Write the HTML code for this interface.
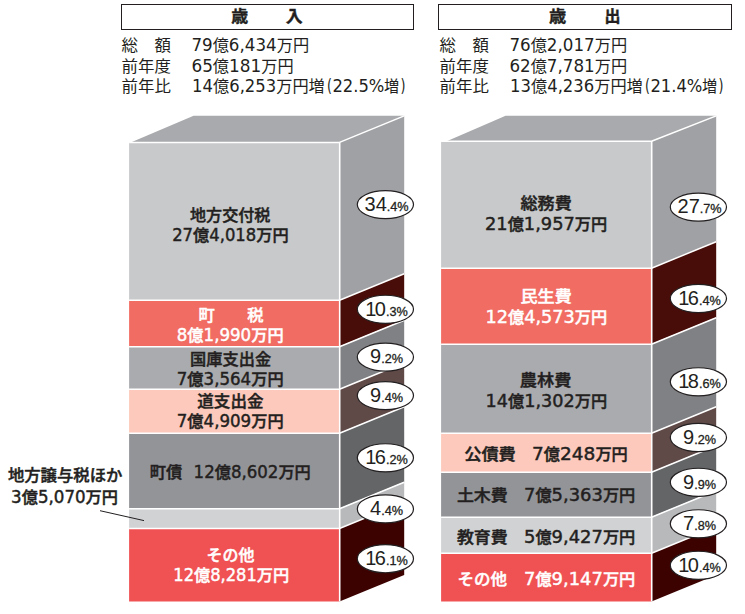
<!DOCTYPE html>
<html lang="ja">
<head>
<meta charset="utf-8">
<title>歳入・歳出</title>
<style>
html,body{margin:0;padding:0;background:#fff;}
body{width:745px;height:614px;overflow:hidden;}
svg{display:block;font-family:"Liberation Sans", "Noto Sans CJK JP", sans-serif;}
.n{font-family:"DejaVu Sans","Liberation Sans",sans-serif;}
</style>
</head>
<body>
<svg width="745" height="614" viewBox="0 0 745 614">
<rect x="121.5" y="4.5" width="292" height="25" fill="#fff" stroke="#231f20" stroke-width="1"/>
<rect x="438.5" y="4.5" width="293" height="25" fill="#fff" stroke="#231f20" stroke-width="1"/>
<polygon points="130.7,142.4 339.5,142.4 404.2,115.7 193.6,115.7" fill="#a9aaad"/>
<rect x="129.1" y="142.2" width="210.4" height="157.8" fill="#c8c9cb"/>
<polygon points="339.5,142.2 404.2,115.7 404.2,273.5 339.5,300" fill="#a0a1a4"/>
<rect x="129.1" y="300" width="210.4" height="46.5" fill="#f16c62"/>
<polygon points="339.5,300 404.2,273.5 404.2,320 339.5,346.5" fill="#480d08"/>
<rect x="129.1" y="346.5" width="210.4" height="42.5" fill="#aaabae"/>
<polygon points="339.5,346.5 404.2,320 404.2,362.5 339.5,389" fill="#808184"/>
<rect x="129.1" y="389" width="210.4" height="44" fill="#fcc9bc"/>
<polygon points="339.5,389 404.2,362.5 404.2,406.5 339.5,433" fill="#5f4a48"/>
<rect x="129.1" y="433" width="210.4" height="75.5" fill="#939498"/>
<polygon points="339.5,433 404.2,406.5 404.2,482 339.5,508.5" fill="#646567"/>
<rect x="129.1" y="508.5" width="210.4" height="19.8" fill="#d1d2d4"/>
<polygon points="339.5,508.5 404.2,482 404.2,501.8 339.5,528.3" fill="#b8b9bb"/>
<rect x="129.1" y="528.3" width="210.4" height="73.2" fill="#f05254"/>
<polygon points="339.5,528.3 404.2,501.8 404.2,575 339.5,601.5" fill="#3c0200"/>
<line x1="129.1" y1="142.4" x2="339.5" y2="142.4" stroke="#fff" stroke-width="1.5"/>
<line x1="339.5" y1="142.4" x2="404.2" y2="115.9" stroke="#fff" stroke-width="1.5"/>
<line x1="129.1" y1="300.2" x2="339.5" y2="300.2" stroke="#fff" stroke-width="1.5"/>
<line x1="339.5" y1="300.2" x2="404.2" y2="273.7" stroke="#fff" stroke-width="1.5"/>
<line x1="129.1" y1="346.7" x2="339.5" y2="346.7" stroke="#fff" stroke-width="1.5"/>
<line x1="339.5" y1="346.7" x2="404.2" y2="320.2" stroke="#fff" stroke-width="1.5"/>
<line x1="129.1" y1="389.2" x2="339.5" y2="389.2" stroke="#fff" stroke-width="1.5"/>
<line x1="339.5" y1="389.2" x2="404.2" y2="362.7" stroke="#fff" stroke-width="1.5"/>
<line x1="129.1" y1="433.2" x2="339.5" y2="433.2" stroke="#fff" stroke-width="1.5"/>
<line x1="339.5" y1="433.2" x2="404.2" y2="406.7" stroke="#fff" stroke-width="1.5"/>
<line x1="129.1" y1="508.7" x2="339.5" y2="508.7" stroke="#fff" stroke-width="1.5"/>
<line x1="339.5" y1="508.7" x2="404.2" y2="482.2" stroke="#fff" stroke-width="1.5"/>
<line x1="129.1" y1="528.5" x2="339.5" y2="528.5" stroke="#fff" stroke-width="1.5"/>
<line x1="339.5" y1="528.5" x2="404.2" y2="502" stroke="#fff" stroke-width="1.5"/>
<line x1="339.7" y1="142.2" x2="339.7" y2="601.5" stroke="#fff" stroke-width="1.6"/>
<polygon points="446.7,141.2 651.5,141.2 716.2,115.7 505.6,115.7" fill="#a9aaad"/>
<rect x="441.1" y="141" width="210.4" height="127" fill="#c8c9cb"/>
<polygon points="651.5,141 716.2,115.7 716.2,241.5 651.5,268" fill="#a0a1a4"/>
<rect x="441.1" y="268" width="210.4" height="76" fill="#f16c62"/>
<polygon points="651.5,268 716.2,241.5 716.2,317.5 651.5,344" fill="#480d08"/>
<rect x="441.1" y="344" width="210.4" height="89" fill="#aaabae"/>
<polygon points="651.5,344 716.2,317.5 716.2,406.5 651.5,433" fill="#808184"/>
<rect x="441.1" y="433" width="210.4" height="39" fill="#fcc9bc"/>
<polygon points="651.5,433 716.2,406.5 716.2,445.5 651.5,472" fill="#5f4a48"/>
<rect x="441.1" y="472" width="210.4" height="45" fill="#939498"/>
<polygon points="651.5,472 716.2,445.5 716.2,490.5 651.5,517" fill="#646567"/>
<rect x="441.1" y="517" width="210.4" height="36" fill="#d1d2d4"/>
<polygon points="651.5,517 716.2,490.5 716.2,526.5 651.5,553" fill="#b8b9bb"/>
<rect x="441.1" y="553" width="210.4" height="48.5" fill="#f05254"/>
<polygon points="651.5,553 716.2,526.5 716.2,575 651.5,601.5" fill="#3c0200"/>
<line x1="441.1" y1="141.2" x2="651.5" y2="141.2" stroke="#fff" stroke-width="1.5"/>
<line x1="651.5" y1="141.2" x2="716.2" y2="115.9" stroke="#fff" stroke-width="1.5"/>
<line x1="441.1" y1="268.2" x2="651.5" y2="268.2" stroke="#fff" stroke-width="1.5"/>
<line x1="651.5" y1="268.2" x2="716.2" y2="241.7" stroke="#fff" stroke-width="1.5"/>
<line x1="441.1" y1="344.2" x2="651.5" y2="344.2" stroke="#fff" stroke-width="1.5"/>
<line x1="651.5" y1="344.2" x2="716.2" y2="317.7" stroke="#fff" stroke-width="1.5"/>
<line x1="441.1" y1="433.2" x2="651.5" y2="433.2" stroke="#fff" stroke-width="1.5"/>
<line x1="651.5" y1="433.2" x2="716.2" y2="406.7" stroke="#fff" stroke-width="1.5"/>
<line x1="441.1" y1="472.2" x2="651.5" y2="472.2" stroke="#fff" stroke-width="1.5"/>
<line x1="651.5" y1="472.2" x2="716.2" y2="445.7" stroke="#fff" stroke-width="1.5"/>
<line x1="441.1" y1="517.2" x2="651.5" y2="517.2" stroke="#fff" stroke-width="1.5"/>
<line x1="651.5" y1="517.2" x2="716.2" y2="490.7" stroke="#fff" stroke-width="1.5"/>
<line x1="441.1" y1="553.2" x2="651.5" y2="553.2" stroke="#fff" stroke-width="1.5"/>
<line x1="651.5" y1="553.2" x2="716.2" y2="526.7" stroke="#fff" stroke-width="1.5"/>
<line x1="651.7" y1="141" x2="651.7" y2="601.5" stroke="#fff" stroke-width="1.6"/>
<line x1="100" y1="510.7" x2="144" y2="520.6" stroke="#231f20" stroke-width="1"/>
<text y="22.3" font-weight="bold" fill="#231f20" stroke="#231f20" stroke-width="0.4"><tspan font-size="16" x="231.20" textLength="16.90" lengthAdjust="spacingAndGlyphs">歳</tspan><tspan font-size="16" x="285.80" textLength="16.90" lengthAdjust="spacingAndGlyphs">入</tspan></text>
<text y="22.3" font-weight="bold" fill="#231f20" stroke="#231f20" stroke-width="0.4"><tspan font-size="16" x="549.10" textLength="17.20" lengthAdjust="spacingAndGlyphs">歳</tspan><tspan font-size="16" x="604.40" textLength="16.00" lengthAdjust="spacingAndGlyphs">出</tspan></text>
<text y="50.8" font-weight="normal" fill="#231f20"><tspan font-size="15.6" x="121.60" textLength="49.30" lengthAdjust="spacingAndGlyphs">総　額</tspan><tspan font-size="16.8" class="n" x="191.40" textLength="21.27" lengthAdjust="spacingAndGlyphs">79</tspan><tspan font-size="15.6" textLength="16.20" lengthAdjust="spacingAndGlyphs">億</tspan><tspan font-size="16.8" class="n" textLength="47.83" lengthAdjust="spacingAndGlyphs">6,434</tspan><tspan font-size="15.6" textLength="32.40" lengthAdjust="spacingAndGlyphs">万円</tspan></text>
<text y="71.6" font-weight="normal" fill="#231f20"><tspan font-size="15.6" x="121.60" textLength="49.30" lengthAdjust="spacingAndGlyphs">前年度</tspan><tspan font-size="16.8" class="n" x="191.40" textLength="21.48" lengthAdjust="spacingAndGlyphs">65</tspan><tspan font-size="15.6" textLength="16.20" lengthAdjust="spacingAndGlyphs">億</tspan><tspan font-size="16.8" class="n" textLength="32.22" lengthAdjust="spacingAndGlyphs">181</tspan><tspan font-size="15.6" textLength="32.40" lengthAdjust="spacingAndGlyphs">万円</tspan></text>
<text y="91.6" font-weight="normal" fill="#231f20"><tspan font-size="15.6" x="121.60" textLength="49.30" lengthAdjust="spacingAndGlyphs">前年比</tspan><tspan font-size="16.8" class="n" x="192.10" textLength="20.90" lengthAdjust="spacingAndGlyphs">14</tspan><tspan font-size="15.6" textLength="16.20" lengthAdjust="spacingAndGlyphs">億</tspan><tspan font-size="16.8" class="n" textLength="47.00" lengthAdjust="spacingAndGlyphs">6,253</tspan><tspan font-size="15.6" textLength="48.60" lengthAdjust="spacingAndGlyphs">万円増</tspan><tspan font-size="16.8" class="n" x="327.10" textLength="4.90" lengthAdjust="spacingAndGlyphs">(</tspan><tspan font-size="16.8" class="n" x="332.40" textLength="52.00" lengthAdjust="spacingAndGlyphs">22.5%</tspan><tspan font-size="15.6" x="384.00" textLength="15.20" lengthAdjust="spacingAndGlyphs">増</tspan><tspan font-size="16.8" class="n" x="400.60" textLength="5.00" lengthAdjust="spacingAndGlyphs">)</tspan></text>
<text y="50.8" font-weight="normal" fill="#231f20"><tspan font-size="15.6" x="439.60" textLength="49.30" lengthAdjust="spacingAndGlyphs">総　額</tspan><tspan font-size="16.8" class="n" x="509.40" textLength="21.27" lengthAdjust="spacingAndGlyphs">76</tspan><tspan font-size="15.6" textLength="16.20" lengthAdjust="spacingAndGlyphs">億</tspan><tspan font-size="16.8" class="n" textLength="47.83" lengthAdjust="spacingAndGlyphs">2,017</tspan><tspan font-size="15.6" textLength="32.40" lengthAdjust="spacingAndGlyphs">万円</tspan></text>
<text y="71.6" font-weight="normal" fill="#231f20"><tspan font-size="15.6" x="439.60" textLength="49.30" lengthAdjust="spacingAndGlyphs">前年度</tspan><tspan font-size="16.8" class="n" x="509.40" textLength="21.27" lengthAdjust="spacingAndGlyphs">62</tspan><tspan font-size="15.6" textLength="16.20" lengthAdjust="spacingAndGlyphs">億</tspan><tspan font-size="16.8" class="n" textLength="47.83" lengthAdjust="spacingAndGlyphs">7,781</tspan><tspan font-size="15.6" textLength="32.40" lengthAdjust="spacingAndGlyphs">万円</tspan></text>
<text y="91.6" font-weight="normal" fill="#231f20"><tspan font-size="15.6" x="439.60" textLength="49.30" lengthAdjust="spacingAndGlyphs">前年比</tspan><tspan font-size="16.8" class="n" x="510.10" textLength="20.90" lengthAdjust="spacingAndGlyphs">13</tspan><tspan font-size="15.6" textLength="16.20" lengthAdjust="spacingAndGlyphs">億</tspan><tspan font-size="16.8" class="n" textLength="47.00" lengthAdjust="spacingAndGlyphs">4,236</tspan><tspan font-size="15.6" textLength="48.60" lengthAdjust="spacingAndGlyphs">万円増</tspan><tspan font-size="16.8" class="n" x="645.10" textLength="4.90" lengthAdjust="spacingAndGlyphs">(</tspan><tspan font-size="16.8" class="n" x="650.40" textLength="52.00" lengthAdjust="spacingAndGlyphs">21.4%</tspan><tspan font-size="15.6" x="702.00" textLength="15.20" lengthAdjust="spacingAndGlyphs">増</tspan><tspan font-size="16.8" class="n" x="718.60" textLength="5.00" lengthAdjust="spacingAndGlyphs">)</tspan></text>
<text y="221.2" font-weight="500" fill="#231f20" stroke="#231f20" stroke-width="0.45"><tspan font-size="15.7" x="190.00" textLength="80.40" lengthAdjust="spacingAndGlyphs">地方交付税</tspan></text>
<text y="241.2" font-weight="500" fill="#231f20" stroke="#231f20" stroke-width="0.45"><tspan font-size="17" class="n" x="172.20" textLength="20.87" lengthAdjust="spacingAndGlyphs">27</tspan><tspan font-size="15.7" textLength="16.20" lengthAdjust="spacingAndGlyphs">億</tspan><tspan font-size="17" class="n" textLength="46.93" lengthAdjust="spacingAndGlyphs">4,018</tspan><tspan font-size="15.7" textLength="32.40" lengthAdjust="spacingAndGlyphs">万円</tspan></text>
<text y="321.2" font-weight="500" fill="#ffffff" stroke="#ffffff" stroke-width="0.45"><tspan font-size="15.7" x="198.50" textLength="65.10" lengthAdjust="spacingAndGlyphs">町　　税</tspan></text>
<text y="341.2" font-weight="500" fill="#ffffff" stroke="#ffffff" stroke-width="0.45"><tspan font-size="17" class="n" x="176.80" textLength="10.59" lengthAdjust="spacingAndGlyphs">8</tspan><tspan font-size="15.7" textLength="16.20" lengthAdjust="spacingAndGlyphs">億</tspan><tspan font-size="17" class="n" textLength="47.61" lengthAdjust="spacingAndGlyphs">1,990</tspan><tspan font-size="15.7" textLength="32.40" lengthAdjust="spacingAndGlyphs">万円</tspan></text>
<text y="364.7" font-weight="500" fill="#231f20" stroke="#231f20" stroke-width="0.45"><tspan font-size="15.7" x="190.00" textLength="81.10" lengthAdjust="spacingAndGlyphs">国庫支出金</tspan></text>
<text y="384.5" font-weight="500" fill="#231f20" stroke="#231f20" stroke-width="0.45"><tspan font-size="17" class="n" x="176.80" textLength="10.59" lengthAdjust="spacingAndGlyphs">7</tspan><tspan font-size="15.7" textLength="16.20" lengthAdjust="spacingAndGlyphs">億</tspan><tspan font-size="17" class="n" textLength="47.61" lengthAdjust="spacingAndGlyphs">3,564</tspan><tspan font-size="15.7" textLength="32.40" lengthAdjust="spacingAndGlyphs">万円</tspan></text>
<text y="406.5" font-weight="500" fill="#231f20" stroke="#231f20" stroke-width="0.45"><tspan font-size="15.7" x="197.30" textLength="66.30" lengthAdjust="spacingAndGlyphs">道支出金</tspan></text>
<text y="426.5" font-weight="500" fill="#231f20" stroke="#231f20" stroke-width="0.45"><tspan font-size="17" class="n" x="176.80" textLength="10.59" lengthAdjust="spacingAndGlyphs">7</tspan><tspan font-size="15.7" textLength="16.20" lengthAdjust="spacingAndGlyphs">億</tspan><tspan font-size="17" class="n" textLength="47.61" lengthAdjust="spacingAndGlyphs">4,909</tspan><tspan font-size="15.7" textLength="32.40" lengthAdjust="spacingAndGlyphs">万円</tspan></text>
<text y="477.6" font-weight="500" fill="#231f20" stroke="#231f20" stroke-width="0.45"><tspan font-size="15.7" x="149.80" textLength="32.50" lengthAdjust="spacingAndGlyphs">町債</tspan><tspan font-size="17" class="n" x="193.60" textLength="21.11" lengthAdjust="spacingAndGlyphs">12</tspan><tspan font-size="15.7" textLength="16.20" lengthAdjust="spacingAndGlyphs">億</tspan><tspan font-size="17" class="n" textLength="47.49" lengthAdjust="spacingAndGlyphs">8,602</tspan><tspan font-size="15.7" textLength="32.40" lengthAdjust="spacingAndGlyphs">万円</tspan></text>
<text y="560.7" font-weight="500" fill="#ffffff" stroke="#ffffff" stroke-width="0.45"><tspan font-size="15.7" x="206.60" textLength="47.90" lengthAdjust="spacingAndGlyphs">その他</tspan></text>
<text y="581.2" font-weight="500" fill="#ffffff" stroke="#ffffff" stroke-width="0.45"><tspan font-size="17" class="n" x="173.30" textLength="20.71" lengthAdjust="spacingAndGlyphs">12</tspan><tspan font-size="15.7" textLength="16.20" lengthAdjust="spacingAndGlyphs">億</tspan><tspan font-size="17" class="n" textLength="46.59" lengthAdjust="spacingAndGlyphs">8,281</tspan><tspan font-size="15.7" textLength="32.40" lengthAdjust="spacingAndGlyphs">万円</tspan></text>
<text y="481.2" font-weight="500" fill="#231f20" stroke="#231f20" stroke-width="0.45"><tspan font-size="15.7" x="7.90" textLength="114.50" lengthAdjust="spacingAndGlyphs">地方譲与税ほか</tspan></text>
<text y="502.7" font-weight="500" fill="#231f20" stroke="#231f20" stroke-width="0.45"><tspan font-size="17" class="n" x="11.10" textLength="10.61" lengthAdjust="spacingAndGlyphs">3</tspan><tspan font-size="15.7" textLength="16.20" lengthAdjust="spacingAndGlyphs">億</tspan><tspan font-size="17" class="n" textLength="47.69" lengthAdjust="spacingAndGlyphs">5,070</tspan><tspan font-size="15.7" textLength="32.40" lengthAdjust="spacingAndGlyphs">万円</tspan></text>
<text y="209.1" font-weight="500" fill="#231f20" stroke="#231f20" stroke-width="0.45"><tspan font-size="15.7" x="520.50" textLength="51.20" lengthAdjust="spacingAndGlyphs">総務費</tspan></text>
<text y="230.2" font-weight="500" fill="#231f20" stroke="#231f20" stroke-width="0.45"><tspan font-size="17" class="n" x="485.00" textLength="22.65" lengthAdjust="spacingAndGlyphs">21</tspan><tspan font-size="15.7" textLength="16.20" lengthAdjust="spacingAndGlyphs">億</tspan><tspan font-size="17" class="n" textLength="50.95" lengthAdjust="spacingAndGlyphs">1,957</tspan><tspan font-size="15.7" textLength="32.40" lengthAdjust="spacingAndGlyphs">万円</tspan></text>
<text y="301.5" font-weight="500" fill="#ffffff" stroke="#ffffff" stroke-width="0.45"><tspan font-size="15.7" x="520.50" textLength="51.20" lengthAdjust="spacingAndGlyphs">民生費</tspan></text>
<text y="323.2" font-weight="500" fill="#ffffff" stroke="#ffffff" stroke-width="0.45"><tspan font-size="17" class="n" x="485.50" textLength="22.50" lengthAdjust="spacingAndGlyphs">12</tspan><tspan font-size="15.7" textLength="16.20" lengthAdjust="spacingAndGlyphs">億</tspan><tspan font-size="17" class="n" textLength="50.60" lengthAdjust="spacingAndGlyphs">4,573</tspan><tspan font-size="15.7" textLength="32.40" lengthAdjust="spacingAndGlyphs">万円</tspan></text>
<text y="385.5" font-weight="500" fill="#231f20" stroke="#231f20" stroke-width="0.45"><tspan font-size="15.7" x="519.70" textLength="51.70" lengthAdjust="spacingAndGlyphs">農林費</tspan></text>
<text y="407.2" font-weight="500" fill="#231f20" stroke="#231f20" stroke-width="0.45"><tspan font-size="17" class="n" x="485.60" textLength="22.44" lengthAdjust="spacingAndGlyphs">14</tspan><tspan font-size="15.7" textLength="16.20" lengthAdjust="spacingAndGlyphs">億</tspan><tspan font-size="17" class="n" textLength="50.46" lengthAdjust="spacingAndGlyphs">1,302</tspan><tspan font-size="15.7" textLength="32.40" lengthAdjust="spacingAndGlyphs">万円</tspan></text>
<text y="460.2" font-weight="500" fill="#231f20" stroke="#231f20" stroke-width="0.45"><tspan font-size="15.7" x="464.20" textLength="51.60" lengthAdjust="spacingAndGlyphs">公債費</tspan><tspan font-size="17" class="n" x="532.10" textLength="11.78" lengthAdjust="spacingAndGlyphs">7</tspan><tspan font-size="15.7" textLength="16.20" lengthAdjust="spacingAndGlyphs">億</tspan><tspan font-size="17" class="n" textLength="35.32" lengthAdjust="spacingAndGlyphs">248</tspan><tspan font-size="15.7" textLength="32.40" lengthAdjust="spacingAndGlyphs">万円</tspan></text>
<text y="501.2" font-weight="500" fill="#231f20" stroke="#231f20" stroke-width="0.45"><tspan font-size="15.7" x="456.90" textLength="50.90" lengthAdjust="spacingAndGlyphs">土木費</tspan><tspan font-size="17" class="n" x="524.00" textLength="11.41" lengthAdjust="spacingAndGlyphs">7</tspan><tspan font-size="15.7" textLength="16.20" lengthAdjust="spacingAndGlyphs">億</tspan><tspan font-size="17" class="n" textLength="51.29" lengthAdjust="spacingAndGlyphs">5,363</tspan><tspan font-size="15.7" textLength="32.40" lengthAdjust="spacingAndGlyphs">万円</tspan></text>
<text y="543.2" font-weight="500" fill="#231f20" stroke="#231f20" stroke-width="0.45"><tspan font-size="15.7" x="456.90" textLength="50.90" lengthAdjust="spacingAndGlyphs">教育費</tspan><tspan font-size="17" class="n" x="524.00" textLength="11.41" lengthAdjust="spacingAndGlyphs">5</tspan><tspan font-size="15.7" textLength="16.20" lengthAdjust="spacingAndGlyphs">億</tspan><tspan font-size="17" class="n" textLength="51.29" lengthAdjust="spacingAndGlyphs">9,427</tspan><tspan font-size="15.7" textLength="32.40" lengthAdjust="spacingAndGlyphs">万円</tspan></text>
<text y="585.2" font-weight="500" fill="#ffffff" stroke="#ffffff" stroke-width="0.45"><tspan font-size="15.7" x="457.40" textLength="49.60" lengthAdjust="spacingAndGlyphs">その他</tspan><tspan font-size="17" class="n" x="524.00" textLength="11.41" lengthAdjust="spacingAndGlyphs">7</tspan><tspan font-size="15.7" textLength="16.20" lengthAdjust="spacingAndGlyphs">億</tspan><tspan font-size="17" class="n" textLength="51.29" lengthAdjust="spacingAndGlyphs">9,147</tspan><tspan font-size="15.7" textLength="32.40" lengthAdjust="spacingAndGlyphs">万円</tspan></text>
<ellipse cx="385.4" cy="204.6" rx="28.1" ry="14.05" fill="#fff" stroke="#231f20" stroke-width="1.2"/>
<text x="386.6" y="210.9" text-anchor="middle" fill="#231f20"><tspan font-size="20">34</tspan><tspan font-size="12.7" stroke="#231f20" stroke-width="0.3">.4%</tspan></text>
<ellipse cx="385.4" cy="309.3" rx="28.1" ry="14.05" fill="#fff" stroke="#231f20" stroke-width="1.2"/>
<text x="386.6" y="315.6" text-anchor="middle" fill="#231f20"><tspan font-size="20" letter-spacing="-1.6">1</tspan><tspan font-size="20">0</tspan><tspan font-size="12.7" stroke="#231f20" stroke-width="0.3">.3%</tspan></text>
<ellipse cx="385.4" cy="357.1" rx="28.1" ry="14.05" fill="#fff" stroke="#231f20" stroke-width="1.2"/>
<text x="386.6" y="363.4" text-anchor="middle" fill="#231f20"><tspan font-size="20">9</tspan><tspan font-size="12.7" stroke="#231f20" stroke-width="0.3">.2%</tspan></text>
<ellipse cx="385.4" cy="395.6" rx="28.1" ry="14.05" fill="#fff" stroke="#231f20" stroke-width="1.2"/>
<text x="386.6" y="401.9" text-anchor="middle" fill="#231f20"><tspan font-size="20">9</tspan><tspan font-size="12.7" stroke="#231f20" stroke-width="0.3">.4%</tspan></text>
<ellipse cx="385.4" cy="457.8" rx="28.1" ry="14.05" fill="#fff" stroke="#231f20" stroke-width="1.2"/>
<text x="386.6" y="464.1" text-anchor="middle" fill="#231f20"><tspan font-size="20" letter-spacing="-1.6">1</tspan><tspan font-size="20">6</tspan><tspan font-size="12.7" stroke="#231f20" stroke-width="0.3">.2%</tspan></text>
<ellipse cx="385.4" cy="508.9" rx="28.1" ry="14.05" fill="#fff" stroke="#231f20" stroke-width="1.2"/>
<text x="386.6" y="515.2" text-anchor="middle" fill="#231f20"><tspan font-size="20">4</tspan><tspan font-size="12.7" stroke="#231f20" stroke-width="0.3">.4%</tspan></text>
<ellipse cx="385.4" cy="558.7" rx="28.1" ry="14.05" fill="#fff" stroke="#231f20" stroke-width="1.2"/>
<text x="386.6" y="565" text-anchor="middle" fill="#231f20"><tspan font-size="20" letter-spacing="-1.6">1</tspan><tspan font-size="20">6</tspan><tspan font-size="12.7" stroke="#231f20" stroke-width="0.3">.1%</tspan></text>
<ellipse cx="698.4" cy="207.1" rx="28.1" ry="14.05" fill="#fff" stroke="#231f20" stroke-width="1.2"/>
<text x="699.6" y="213.4" text-anchor="middle" fill="#231f20"><tspan font-size="20">27</tspan><tspan font-size="12.7" stroke="#231f20" stroke-width="0.3">.7%</tspan></text>
<ellipse cx="698.4" cy="298.5" rx="28.1" ry="14.05" fill="#fff" stroke="#231f20" stroke-width="1.2"/>
<text x="699.6" y="304.8" text-anchor="middle" fill="#231f20"><tspan font-size="20" letter-spacing="-1.6">1</tspan><tspan font-size="20">6</tspan><tspan font-size="12.7" stroke="#231f20" stroke-width="0.3">.4%</tspan></text>
<ellipse cx="698.4" cy="381.8" rx="28.1" ry="14.05" fill="#fff" stroke="#231f20" stroke-width="1.2"/>
<text x="699.6" y="388.1" text-anchor="middle" fill="#231f20"><tspan font-size="20" letter-spacing="-1.6">1</tspan><tspan font-size="20">8</tspan><tspan font-size="12.7" stroke="#231f20" stroke-width="0.3">.6%</tspan></text>
<ellipse cx="698.4" cy="437.5" rx="28.1" ry="14.05" fill="#fff" stroke="#231f20" stroke-width="1.2"/>
<text x="699.6" y="443.8" text-anchor="middle" fill="#231f20"><tspan font-size="20">9</tspan><tspan font-size="12.7" stroke="#231f20" stroke-width="0.3">.2%</tspan></text>
<ellipse cx="698.4" cy="482.3" rx="28.1" ry="14.05" fill="#fff" stroke="#231f20" stroke-width="1.2"/>
<text x="699.6" y="488.6" text-anchor="middle" fill="#231f20"><tspan font-size="20">9</tspan><tspan font-size="12.7" stroke="#231f20" stroke-width="0.3">.9%</tspan></text>
<ellipse cx="698.4" cy="523.8" rx="28.1" ry="14.05" fill="#fff" stroke="#231f20" stroke-width="1.2"/>
<text x="699.6" y="530.1" text-anchor="middle" fill="#231f20"><tspan font-size="20">7</tspan><tspan font-size="12.7" stroke="#231f20" stroke-width="0.3">.8%</tspan></text>
<ellipse cx="698.4" cy="565.3" rx="28.1" ry="14.05" fill="#fff" stroke="#231f20" stroke-width="1.2"/>
<text x="699.6" y="571.6" text-anchor="middle" fill="#231f20"><tspan font-size="20" letter-spacing="-1.6">1</tspan><tspan font-size="20">0</tspan><tspan font-size="12.7" stroke="#231f20" stroke-width="0.3">.4%</tspan></text>
</svg>
</body>
</html>
